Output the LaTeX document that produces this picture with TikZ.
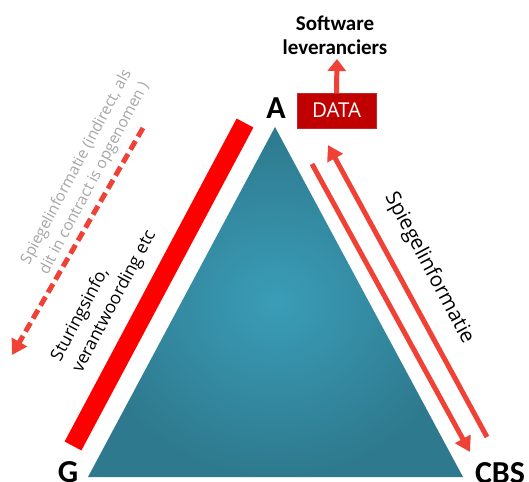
\documentclass[tikz,border=0pt]{standalone}
\usepackage{fontspec}
\setmainfont{Carlito}
\newfontfamily\widefont{Open Sans}
\usetikzlibrary{positioning,arrows.meta}

\definecolor{flowred}{HTML}{EF4136}
\definecolor{datared}{HTML}{C00000}
\definecolor{tealin}{HTML}{3A9DB8}
\definecolor{tealout}{HTML}{2E798D}
\definecolor{notegray}{HTML}{A6A6A6}

\begin{document}
\begin{tikzpicture}[x=1pt,y=-1pt,
						% Define styles for the labels and arrows
						corner label/.style={font=\fontsize{32}{32}\selectfont\bfseries, inner sep=0pt, anchor=base},
						side label/.style={font=\widefont\fontsize{17.5}{24}\selectfont, align=left, inner sep=0pt},
						note label/.style={font=\widefont\fontsize{15.5}{21}\selectfont, text=notegray, align=left, inner sep=0pt},
						flow arrow/.style={draw=flowred, line width=5pt, -{Triangle[length=15pt,width=17pt]}},
						flow line/.style={draw=flowred, line width=5pt}
						]
						\useasboundingbox (0,0) rectangle (529,481);
						
						% Define and place the corners of the triangle
						\coordinate (top) at (275,127);
						\coordinate (left) at (88,477);
						\coordinate (right) at (463,477);
						\shade[inner color=tealin, outer color=tealout] (top) -- (left) -- (right) -- cycle;
						
						% Corner labels
						\node[corner label] (A) at (276,119) {A};
						\node[corner label] (G) at (68,482) {G};
						\node[corner label] (CBS) at (500,483) {CBS};
						
						% Data box and vendors
						\node[fill=datared, draw=datared!85!white, minimum width=79pt, minimum height=35pt, inner sep=0pt,
						      text=white, font=\widefont\fontsize{20.5}{20.5}\selectfont] (data) at (336.5,110.5) {DATA};
						\node[font=\fontsize{21}{24}\selectfont\bfseries, align=center, inner sep=0pt] (vendor) at (335,35) {Software\\leveranciers};
						\coordinate (vendortip) at (337,59);
						
						% Left bar and dashed arrow
						\coordinate (barG) at (73,446);
						\coordinate (barA) at (245,123);
						\coordinate (dashA) at (143,128);
						\coordinate (dashG) at (12,355);
						\node[side label, rotate=62] (sturing) at (104,296) {Sturingsinfo,\\verantwoording etc};
						\node[note label, rotate=62] (spiegelA) at (86,172) {Spiegelinformatie (indirect, als\\dit in contract is opgenomen )};
						
						% Right arrows
						\coordinate (inA) at (312,164);
						\coordinate (inCBS) at (470,452);
						\coordinate (outCBS) at (487,437);
						\coordinate (outA) at (328,145);
						\node[font=\widefont\fontsize{20.5}{20.5}\selectfont, inner sep=0pt, rotate=-62] (spiegel) at (429,268) {Spiegelinformatie};
						
						% --- Draw the edges ---
						\draw[red, line width=19pt] (barG) -- (barA);
						\draw[flow arrow, dash pattern=on 10pt off 5pt] (dashA) -- (dashG);
						\draw[flow arrow] (inA) -- (inCBS);
						\draw[flow arrow] (outCBS) -- (outA);
						\draw[flow arrow, -{Triangle[length=12pt,width=18pt]}] (data.north) -- (vendortip);
					\end{tikzpicture}
\end{document}
